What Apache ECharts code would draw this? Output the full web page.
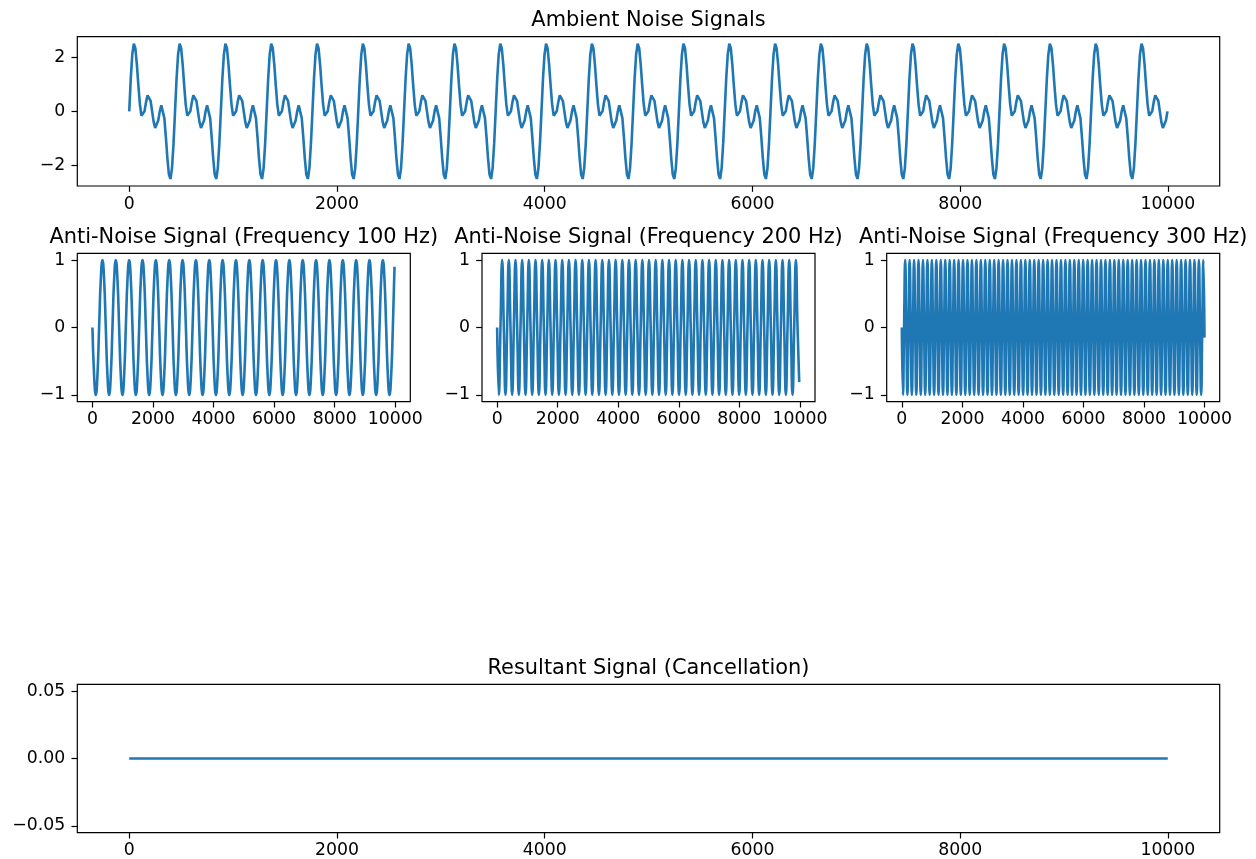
<!DOCTYPE html>
<html>
<head>
<meta charset="utf-8">
<script src="https://cdn.jsdelivr.net/npm/echarts@6/dist/echarts.min.js"></script>
<style>
html,body{margin:0;padding:0;background:#fff;}
#chart{width:1256px;height:859px;}
</style>
</head>
<body>
<div id="chart"></div>
<script>
// ---- Titles ----
const titles = [
  'Ambient Noise Signals',
  'Anti-Noise Signal (Frequency 100 Hz)',
  'Anti-Noise Signal (Frequency 200 Hz)',
  'Anti-Noise Signal (Frequency 300 Hz)',
  'Resultant Signal (Cancellation)'
];

// ---- Tick labels ----
const xTicks = [0, 2000, 4000, 6000, 8000, 10000];
const ambientYTicks = [-2, 0, 2];
const antiYTicks = [-1, 0, 1];
const resultYTicks = [-0.05, 0, 0.05];

// ---- Data (sample index spacing of the listed values) ----
const ambientStep = 14.7;   // samples between listed ambient values
const ambientNoise = [
0,1.2,2.1,2.49,2.33,1.73,.95,.25,-.16,-.22,0,.34,.59,.61,.39,0,-.39,-.61,-.59,-.34,0,.22,.16,-.25,-.95,-1.73,-2.33,-2.49,-2.1,-1.2,
0,1.2,2.1,2.49,2.33,1.73,.95,.25,-.16,-.22,0,.34,.59,.61,.39,0,-.39,-.61,-.59,-.34,0,.22,.16,-.25,-.95,-1.73,-2.33,-2.49,-2.1,-1.2,
0,1.2,2.1,2.49,2.33,1.73,.95,.25,-.16,-.22,0,.34,.59,.61,.39,0,-.39,-.61,-.59,-.34,0,.22,.16,-.25,-.95,-1.73,-2.33,-2.49,-2.1,-1.2,
0,1.2,2.1,2.49,2.33,1.73,.95,.25,-.16,-.22,0,.34,.59,.61,.39,0,-.39,-.61,-.59,-.34,0,.22,.16,-.25,-.95,-1.73,-2.33,-2.49,-2.1,-1.2,
0,1.2,2.1,2.49,2.33,1.73,.95,.25,-.16,-.22,0,.34,.59,.61,.39,0,-.39,-.61,-.59,-.34,0,.22,.16,-.25,-.95,-1.73,-2.33,-2.49,-2.1,-1.2,
0,1.2,2.1,2.49,2.33,1.73,.95,.25,-.16,-.22,0,.34,.59,.61,.39,0,-.39,-.61,-.59,-.34,0,.22,.16,-.25,-.95,-1.73,-2.33,-2.49,-2.1,-1.2,
0,1.2,2.1,2.49,2.33,1.73,.95,.25,-.16,-.22,0,.34,.59,.61,.39,0,-.39,-.61,-.59,-.34,0,.22,.16,-.25,-.95,-1.73,-2.33,-2.49,-2.1,-1.2,
0,1.2,2.1,2.49,2.33,1.73,.95,.25,-.16,-.22,0,.34,.59,.61,.39,0,-.39,-.61,-.59,-.34,0,.22,.16,-.25,-.95,-1.73,-2.33,-2.49,-2.1,-1.2,
0,1.2,2.1,2.49,2.33,1.73,.95,.25,-.16,-.22,0,.34,.59,.61,.39,0,-.39,-.61,-.59,-.34,0,.22,.16,-.25,-.95,-1.73,-2.33,-2.49,-2.1,-1.2,
0,1.2,2.1,2.49,2.33,1.73,.95,.25,-.16,-.22,0,.34,.59,.61,.39,0,-.39,-.61,-.59,-.34,0,.22,.16,-.25,-.95,-1.73,-2.33,-2.49,-2.1,-1.2,
0,1.2,2.1,2.49,2.33,1.73,.95,.25,-.16,-.22,0,.34,.59,.61,.39,0,-.39,-.61,-.59,-.34,0,.22,.16,-.25,-.95,-1.73,-2.33,-2.49,-2.1,-1.2,
0,1.2,2.1,2.49,2.33,1.73,.95,.25,-.16,-.22,0,.34,.59,.61,.39,0,-.39,-.61,-.59,-.34,0,.22,.16,-.25,-.95,-1.73,-2.33,-2.49,-2.1,-1.2,
0,1.2,2.1,2.49,2.33,1.73,.95,.25,-.16,-.22,0,.34,.59,.61,.39,0,-.39,-.61,-.59,-.34,0,.22,.16,-.25,-.95,-1.73,-2.33,-2.49,-2.1,-1.2,
0,1.2,2.1,2.49,2.33,1.73,.95,.25,-.16,-.22,0,.34,.59,.61,.39,0,-.39,-.61,-.59,-.34,0,.22,.16,-.25,-.95,-1.73,-2.33,-2.49,-2.1,-1.2,
0,1.2,2.1,2.49,2.33,1.73,.95,.25,-.16,-.22,0,.34,.59,.61,.39,0,-.39,-.61,-.59,-.34,0,.22,.16,-.25,-.95,-1.73,-2.33,-2.49,-2.1,-1.2,
0,1.2,2.1,2.49,2.33,1.73,.95,.25,-.16,-.22,0,.34,.59,.61,.39,0,-.39,-.61,-.59,-.34,0,.22,.16,-.25,-.95,-1.73,-2.33,-2.49,-2.1,-1.2,
0,1.2,2.1,2.49,2.33,1.73,.95,.25,-.16,-.22,0,.34,.59,.61,.39,0,-.39,-.61,-.59,-.34,0,.22,.16,-.25,-.95,-1.73,-2.33,-2.49,-2.1,-1.2,
0,1.2,2.1,2.49,2.33,1.73,.95,.25,-.16,-.22,0,.34,.59,.61,.39,0,-.39,-.61,-.59,-.34,0,.22,.16,-.25,-.95,-1.73,-2.33,-2.49,-2.1,-1.2,
0,1.2,2.1,2.49,2.33,1.73,.95,.25,-.16,-.22,0,.34,.59,.61,.39,0,-.39,-.61,-.59,-.34,0,.22,.16,-.25,-.95,-1.73,-2.33,-2.49,-2.1,-1.2,
0,1.2,2.1,2.49,2.33,1.73,.95,.25,-.16,-.22,0,.34,.59,.61,.39,0,-.39,-.61,-.59,-.34,0,.22,.16,-.25,-.95,-1.73,-2.33,-2.49,-2.1,-1.2,
0,1.2,2.1,2.49,2.33,1.73,.95,.25,-.16,-.22,0,.34,.59,.61,.39,0,-.39,-.61,-.59,-.34,0,.22,.16,-.25,-.95,-1.73,-2.33,-2.49,-2.1,-1.2,
0,1.2,2.1,2.49,2.33,1.73,.95,.25,-.16,-.22,0,.34,.59,.61,.39,0,-.39,-.61,-.59,-.34,0,.22,.16,-.25,-.95,-1.73,-2.33,-2.49,-2.1,-1.2,
0,1.2,2.1,2.49,2.33,1.73,.95,.25,-.16,-.22,0,.34,.59,.61,.39,0,-.39,-.61,-.59,-.34,0
];

const anti100Step = 55.125;
const antiNoise100 = [
0,-.71,-1,-.71,0,.71,1,.71, 0,-.71,-1,-.71,0,.71,1,.71,
0,-.71,-1,-.71,0,.71,1,.71, 0,-.71,-1,-.71,0,.71,1,.71,
0,-.71,-1,-.71,0,.71,1,.71, 0,-.71,-1,-.71,0,.71,1,.71,
0,-.71,-1,-.71,0,.71,1,.71, 0,-.71,-1,-.71,0,.71,1,.71,
0,-.71,-1,-.71,0,.71,1,.71, 0,-.71,-1,-.71,0,.71,1,.71,
0,-.71,-1,-.71,0,.71,1,.71, 0,-.71,-1,-.71,0,.71,1,.71,
0,-.71,-1,-.71,0,.71,1,.71, 0,-.71,-1,-.71,0,.71,1,.71,
0,-.71,-1,-.71,0,.71,1,.71, 0,-.71,-1,-.71,0,.71,1,.71,
0,-.71,-1,-.71,0,.71,1,.71, 0,-.71,-1,-.71,0,.71,1,.71,
0,-.71,-1,-.71,0,.71,1,.71, 0,-.71,-1,-.71,0,.71,1,.71,
0,-.71,-1,-.71,0,.71,1,.71, 0,-.71,-1,-.71,0,.71,1,.71,
0,-.71,-1,-.71,0,.9
];

const anti200Step = 55.125;
const antiNoise200 = [
0,-1,0,1, 0,-1,0,1, 0,-1,0,1, 0,-1,0,1, 0,-1,0,1, 0,-1,0,1, 0,-1,0,1, 0,-1,0,1, 0,-1,0,1,
0,-1,0,1, 0,-1,0,1, 0,-1,0,1, 0,-1,0,1, 0,-1,0,1, 0,-1,0,1, 0,-1,0,1, 0,-1,0,1, 0,-1,0,1,
0,-1,0,1, 0,-1,0,1, 0,-1,0,1, 0,-1,0,1, 0,-1,0,1, 0,-1,0,1, 0,-1,0,1, 0,-1,0,1, 0,-1,0,1,
0,-1,0,1, 0,-1,0,1, 0,-1,0,1, 0,-1,0,1, 0,-1,0,1, 0,-1,0,1, 0,-1,0,1, 0,-1,0,1, 0,-1,0,1,
0,-1,0,1, 0,-1,0,1, 0,-1,0,1, 0,-1,0,1, 0,-1,0,1, 0,-1,0,1, 0,-1,0,1, 0,-1,0,1, 0,-1,0,1,
0,-.81
];

const anti300Step = 36.75;
const antiNoise300 = [
0,-1,0,1, 0,-1,0,1, 0,-1,0,1, 0,-1,0,1, 0,-1,0,1, 0,-1,0,1, 0,-1,0,1, 0,-1,0,1,
0,-1,0,1, 0,-1,0,1, 0,-1,0,1, 0,-1,0,1, 0,-1,0,1, 0,-1,0,1, 0,-1,0,1, 0,-1,0,1,
0,-1,0,1, 0,-1,0,1, 0,-1,0,1, 0,-1,0,1, 0,-1,0,1, 0,-1,0,1, 0,-1,0,1, 0,-1,0,1,
0,-1,0,1, 0,-1,0,1, 0,-1,0,1, 0,-1,0,1, 0,-1,0,1, 0,-1,0,1, 0,-1,0,1, 0,-1,0,1,
0,-1,0,1, 0,-1,0,1, 0,-1,0,1, 0,-1,0,1, 0,-1,0,1, 0,-1,0,1, 0,-1,0,1, 0,-1,0,1,
0,-1,0,1, 0,-1,0,1, 0,-1,0,1, 0,-1,0,1, 0,-1,0,1, 0,-1,0,1, 0,-1,0,1, 0,-1,0,1,
0,-1,0,1, 0,-1,0,1, 0,-1,0,1, 0,-1,0,1, 0,-1,0,1, 0,-1,0,1, 0,-1,0,1, 0,-1,0,1,
0,-1,0,1, 0,-1,0,1, 0,-1,0,1, 0,-1,0,1, 0,-1,0,1, 0,-1,0,1, 0,-1,0,1, 0,-1,0,1,
0,-1,0,1, 0,-1,0,1, 0,-1,0,1, 0,-1,0,1,
-.15
];

const resultantTimes = [0, 9999];
const resultantValues = [0, 0];

// ---- Build chart ----
const FONT = 'DejaVu Sans';
const BLUE = '#1f77b4';
const TITLE_FS = 20.9;
const TICK_FS = 17.3;
const grids = [
  {left: 77.3, top: 36.7, width: 1142.4, height: 149.3},
  {left: 77.3, top: 253.3, width: 333, height: 148.4},
  {left: 482.0, top: 253.3, width: 333, height: 148.4},
  {left: 886.7, top: 253.3, width: 333, height: 148.4},
  {left: 77.3, top: 684.3, width: 1142.4, height: 148.4}
];
const titleBaselines = [28.2, 244.8, 244.8, 244.8, 676.1];

function minusFmt(v, dec) {
  const s = dec != null ? Math.abs(v).toFixed(dec) : String(Math.abs(v));
  return (v < -1e-12 ? '\u2212' : '') + s;
}
function toPairs(vals, step) { return vals.map((v, i) => [i * step, v]); }

const yRanges = [[-2.75, 2.75], [-1.1, 1.1], [-1.1, 1.1], [-1.1, 1.1], [-0.055, 0.055]];
const yTickSets = [ambientYTicks, antiYTicks, antiYTicks, antiYTicks, resultYTicks];
const seriesData = [
  toPairs(ambientNoise, ambientStep),
  toPairs(antiNoise100, anti100Step),
  toPairs(antiNoise200, anti200Step),
  toPairs(antiNoise300, anti300Step),
  resultantTimes.map((t, i) => [t, resultantValues[i]])
];

const option = {
  animation: false,
  backgroundColor: '#ffffff',
  title: grids.map((g, i) => ({
    text: titles[i],
    left: g.left + g.width / 2,
    top: titleBaselines[i] - (TITLE_FS / 2 + 0.346 * TITLE_FS),
    textAlign: 'center',
    textVerticalAlign: 'top',
    padding: 0,
    textStyle: {fontFamily: FONT, fontSize: TITLE_FS, fontWeight: 'normal', color: '#000', lineHeight: TITLE_FS}
  })),
  grid: grids.map(g => Object.assign({
    show: true, borderColor: '#000', borderWidth: 1.2, backgroundColor: 'transparent',
    containLabel: false, outerBoundsMode: 'none'
  }, g)),
  xAxis: grids.map((g, i) => ({
    type: 'value', gridIndex: i, min: -500, max: 10499,
    axisLine: {show: false, onZero: false},
    splitLine: {show: false},
    axisTick: {show: true, length: 5.8, lineStyle: {color: '#000', width: 1.2}, customValues: xTicks},
    axisLabel: {
      customValues: xTicks, margin: 9.5, color: '#000', fontFamily: FONT, fontSize: TICK_FS, lineHeight: TICK_FS,
      formatter: v => String(v)
    }
  })),
  yAxis: grids.map((g, i) => ({
    type: 'value', gridIndex: i, min: yRanges[i][0], max: yRanges[i][1],
    axisLine: {show: false, onZero: false},
    splitLine: {show: false},
    axisTick: {show: true, length: 5.8, lineStyle: {color: '#000', width: 1.2}, customValues: yTickSets[i]},
    axisLabel: {
      customValues: yTickSets[i], margin: 12, color: '#000', fontFamily: FONT, fontSize: TICK_FS,
      formatter: v => minusFmt(v, i === 4 ? 2 : null)
    }
  })),
  series: seriesData.map((d, i) => ({
    type: 'line', xAxisIndex: i, yAxisIndex: i, data: d,
    showSymbol: false, symbol: 'none', silent: true,
    smooth: (i === 1 || i === 2 || i === 3) ? 0.5 : false,
    lineStyle: {color: BLUE, width: 2.6},
    emphasis: {disabled: true},
    clip: true
  }))
};

const chart = echarts.init(document.getElementById('chart'), null, {renderer: 'canvas'});
chart.setOption(option);
</script>
</body>
</html>
